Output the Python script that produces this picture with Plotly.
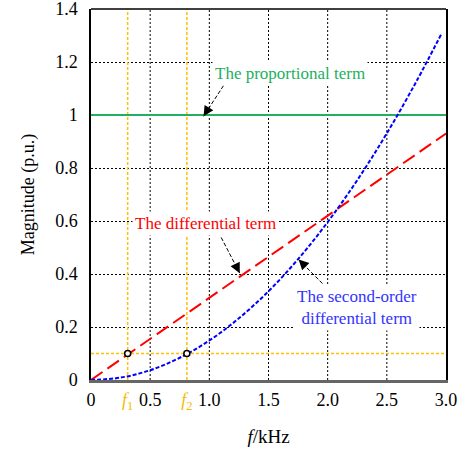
import plotly.graph_objects as go

# ---- data ----
f1 = 0.31
f2 = 0.81
level = 0.1

prop_x = [0.0, 3.0]
prop_y = [1.0, 1.0]

diff_x = [0.0, 3.0]
diff_y = [0.0, 0.93]

sec_x = [0.0, 0.25, 0.5, 0.75, 1.0, 1.25, 1.5, 1.75, 2.0, 2.25, 2.5, 2.75, 2.96]
sec_y = [0.0, 0.009, 0.037, 0.084, 0.149, 0.233, 0.335, 0.456, 0.596, 0.754, 0.931, 1.127, 1.305]

mark_x = [f1, f2]
mark_y = [level, level]

x_tickvals = [0, f1, 0.5, f2, 1.0, 1.5, 2.0, 2.5, 3.0]
x_ticktext = ["0", "<span style='color:#F5BD00'><i>f</i><sub>1</sub></span>", "0.5",
              "<span style='color:#F5BD00'><i>f</i><sub>2</sub></span>", "1.0", "1.5", "2.0", "2.5", "3.0"]
y_tickvals = [0, 0.2, 0.4, 0.6, 0.8, 1.0, 1.2, 1.4]
y_ticktext = ["0", "0.2", "0.4", "0.6", "0.8", "1", "1.2", "1.4"]

YEL = "#FFC000"
GREEN = "#22B060"
RED = "#FF0000"
BLUE = "#0000FF"
FONT = "Liberation Serif, Times New Roman, serif"

fig = go.Figure()

# yellow guide lines
fig.add_trace(go.Scatter(x=[f1, f1], y=[0, 1.4], mode="lines",
                         line=dict(color=YEL, width=1.5, dash="3px,2px"), hoverinfo="skip"))
fig.add_trace(go.Scatter(x=[f2, f2], y=[0, 1.4], mode="lines",
                         line=dict(color=YEL, width=1.5, dash="3px,2px"), hoverinfo="skip"))
fig.add_trace(go.Scatter(x=[0, 3.0], y=[level, level], mode="lines",
                         line=dict(color=YEL, width=1.5, dash="3px,2px"), hoverinfo="skip"))

fig.add_trace(go.Scatter(x=prop_x, y=prop_y, mode="lines", line=dict(color=GREEN, width=2)))
fig.add_trace(go.Scatter(x=diff_x, y=diff_y, mode="lines", line=dict(color=RED, width=2, dash="14px,6px")))
fig.add_trace(go.Scatter(x=sec_x, y=sec_y, mode="lines", line=dict(color=BLUE, width=2, dash="4px,2px"),
                         line_shape="spline"))
fig.add_trace(go.Scatter(x=mark_x, y=mark_y, mode="markers",
                         marker=dict(symbol="circle", size=6, color="white",
                                     line=dict(color="black", width=1.5))))

# dashed arrow shafts + arrow heads
arrows = [
    # tail_x, tail_y, head_x, head_y, ax, ay
    (1.12, 1.111, 0.951, 0.995, 5, -8),
    (1.10, 0.538, 1.257, 0.403, -4, -8),
    (1.956, 0.364, 1.754, 0.455, 6, 6),
]
for tx, ty, hx, hy, ax, ay in arrows:
    fig.add_shape(type="line", x0=tx, y0=ty, x1=hx, y1=hy, xref="x", yref="y",
                  line=dict(color="black", width=1, dash="4px,2px"), layer="above")
    fig.add_annotation(x=hx, y=hy, ax=ax, ay=ay, text="", showarrow=True,
                       arrowhead=2, arrowsize=1.7, arrowwidth=1.2, arrowcolor="black")

fig.add_annotation(x=1.678, y=1.158, text="The proportional term", showarrow=False,
                   font=dict(family=FONT, size=17, color=GREEN), bgcolor="white", borderpad=2)
fig.add_annotation(x=0.967, y=0.591, text="The differential term", showarrow=False,
                   font=dict(family=FONT, size=17, color=RED), bgcolor="white", borderpad=2)
fig.add_annotation(x=2.252, y=0.272, text="The second-order<br>differential term", showarrow=False,
                   font=dict(family=FONT, size=17, color="#3333FF"), bgcolor="white", borderpad=2)

# frame: top line
fig.add_shape(type="line", xref="paper", yref="paper", x0=0, x1=1, y0=1, y1=1,
              line=dict(color="black", width=1.5))

fig.update_layout(
    width=463, height=452,
    margin=dict(l=91, r=17, t=9, b=72),
    paper_bgcolor="white", plot_bgcolor="white",
    showlegend=False,
    font=dict(family=FONT, size=18, color="black"),
    xaxis=dict(range=[0, 3.0], tickmode="array", tickvals=x_tickvals, ticktext=x_ticktext,
               showgrid=False, zeroline=False, showline=True, linecolor="#666666", linewidth=2.5,
               mirror=False, ticks="", ticklabelstandoff=2, ticklabeloverflow="allow", automargin=False,
               title=dict(text="<i>f</i>/kHz", font=dict(family=FONT, size=19), standoff=18)),
    yaxis=dict(range=[0, 1.4], tickmode="array", tickvals=y_tickvals, ticktext=y_ticktext,
               showgrid=True, gridcolor="black", gridwidth=1, griddash="2px,2px",
               zeroline=False, showline=True, linecolor="black", linewidth=1.5, mirror=True,
               ticks="", ticklabelstandoff=8, ticklabeloverflow="allow", automargin=False,
               title=dict(text="Magnitude (p.u.)", font=dict(family=FONT, size=18), standoff=16)),
)

# vertical grid lines at 0.5 steps (not at f1/f2)
for gx in [0.5, 1.0, 1.5, 2.0, 2.5]:
    fig.add_shape(type="line", x0=gx, x1=gx, y0=0, y1=1.4, xref="x", yref="y",
                  line=dict(color="black", width=1, dash="2px,2px"), layer="below")

fig.write_html("out.html")
